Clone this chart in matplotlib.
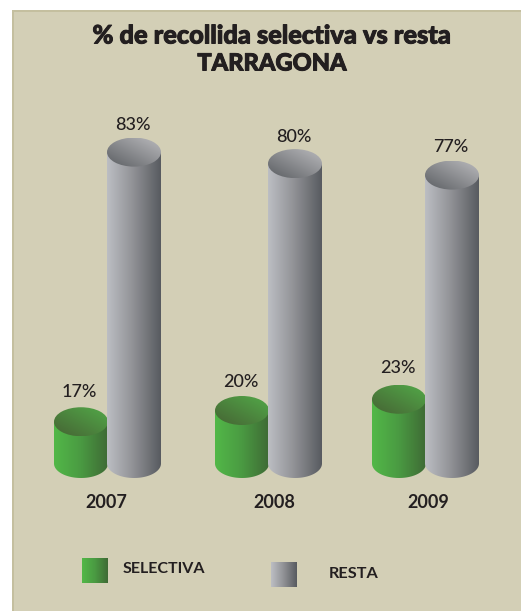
import numpy as np
import matplotlib
matplotlib.use('Agg')
import matplotlib.pyplot as plt
import matplotlib.patheffects as pe
from matplotlib.colors import LinearSegmentedColormap
from matplotlib.patches import Ellipse, PathPatch, Rectangle
from matplotlib.path import Path

years = ['2007', '2008', '2009']
selectiva = [17, 20, 23]
resta = [83, 80, 77]
title_lines = ['% de recollida selectiva vs resta', 'TARRAGONA']
legend_labels = ['SELECTIVA', 'RESTA']

W, H = 521, 611
BG = '#d3cfb6'
INK = '#231f20'
FONT = ['Lato', 'DejaVu Sans']

# layout in pixels
green_left = [54, 215, 372]
gray_left = [107, 268, 425]
year_x = [106, 274, 428]
green_label_dy = [15, 14, 17]
gray_label_dy = [13, 12, 14]
bar_w = 54
ry = 14.5
base_px = 463.5

green_side = LinearSegmentedColormap.from_list('gs', ['#52b848', '#4a9a42', '#3f6b35'])
green_top = LinearSegmentedColormap.from_list('gt', ['#466434', '#52a848'])
gray_side = LinearSegmentedColormap.from_list('rs', ['#bcbec3', '#8f9094', '#585b60'])
gray_top = LinearSegmentedColormap.from_list('rt', ['#5c5f63', '#b9b9bc'])


def scaled_axes(zero_px, px_per_unit, zorder):
    ax = fig.add_axes([0, 0, 1, 1], zorder=zorder)
    ax.set_xlim(0, W)
    ax.set_ylim((zero_px - H) / px_per_unit, zero_px / px_per_unit)
    ax.axis('off')
    return ax


def cylinder(ax, left, value, zero_px, px_per_unit, side_cmap, top_cmap, label_dy):
    r = ry / px_per_unit
    base = (zero_px - base_px) / px_per_unit
    right = left + bar_w
    cx = left + bar_w / 2
    t = np.linspace(np.pi, 2 * np.pi, 60)
    xs = cx + bar_w / 2 * np.cos(t)
    ys = base + r * np.sin(t)
    verts = [(left, value)] + list(zip(xs, ys)) + [(right, value), (left, value)]
    body = Path(verts)
    grad = np.linspace(0, 1, 128).reshape(1, -1)
    im = ax.imshow(grad, cmap=side_cmap, extent=[left, right, base - r, value], aspect='auto', zorder=2)
    im.set_clip_path(PathPatch(body, transform=ax.transData))

    u, v = np.meshgrid(np.linspace(0, 1, 64), np.linspace(0, 1, 64))
    diag = (u + (1 - v)) / 2
    im2 = ax.imshow(diag, cmap=top_cmap, extent=[left, right, value - r, value + r], aspect='auto', zorder=3)
    im2.set_clip_path(Ellipse((cx, value), bar_w, 2 * r, transform=ax.transData))
    ax.annotate(f'{value}%', (cx - 1.5, value + r), xytext=(0, label_dy * 0.72), textcoords='offset points',
                ha='center', va='center', fontsize=13, color=INK, family=FONT, weight='medium', zorder=5)


fig = plt.figure(figsize=(W / 100, H / 100), dpi=100, facecolor='white')

# panel and its pale top/left edges
bg = fig.add_axes([0, 0, 1, 1], zorder=0)
bg.set_xlim(0, W)
bg.set_ylim(H, 0)
bg.axis('off')
bg.add_patch(Rectangle((12, 10), W - 12, H - 10, color=BG, lw=0))
bg.add_patch(Rectangle((12, 10), W - 12, 2, color='#c4bf9f', lw=0))
bg.add_patch(Rectangle((12, 10), 1.5, H - 10, color='#c4bf9f', lw=0))

heavy = [pe.withStroke(linewidth=0.7, foreground=INK)]
bg.text(271, 36, title_lines[0], ha='center', va='center', fontsize=18.3, weight='black', color=INK,
        family=FONT, path_effects=heavy)
bg.text(272, 63, title_lines[1], ha='center', va='center', fontsize=17, weight='black', color=INK,
        family=FONT, path_effects=heavy)

for x, y in zip(year_x, years):
    bg.text(x, 503, y, ha='center', va='center', fontsize=13, weight='bold', color=INK, family=FONT)

# the two series do not share a scale in the original
green_ax = scaled_axes(485.5, 3.75, 2)
gray_ax = scaled_axes(470.0, 3.83, 3)

for left, v, dy in zip(green_left, selectiva, green_label_dy):
    cylinder(green_ax, left, v, 485.5, 3.75, green_side, green_top, dy)
for left, v, dy in zip(gray_left, resta, gray_label_dy):
    cylinder(gray_ax, left, v, 470.0, 3.83, gray_side, gray_top, dy)

for ax in (green_ax, gray_ax):
    ax.set_xlim(0, W)
green_ax.set_ylim((485.5 - H) / 3.75, 485.5 / 3.75)
gray_ax.set_ylim((470.0 - H) / 3.83, 470.0 / 3.83)

# legend
grad = np.linspace(0, 1, 64).reshape(1, -1)
bg.imshow(grad, cmap=green_side, extent=[82, 108, 583, 558], aspect='auto', zorder=2)
bg.imshow(grad, cmap=gray_side, extent=[271, 297, 587, 562], aspect='auto', zorder=2)
bg.set_xlim(0, W)
bg.set_ylim(H, 0)
bg.text(123, 569, legend_labels[0], ha='left', va='center', fontsize=11.5, weight='bold', color=INK, family=FONT)
bg.text(329, 574, legend_labels[1], ha='left', va='center', fontsize=11.7, weight='bold', color=INK, family=FONT)

fig.savefig('out.png', dpi=100, facecolor='white')
